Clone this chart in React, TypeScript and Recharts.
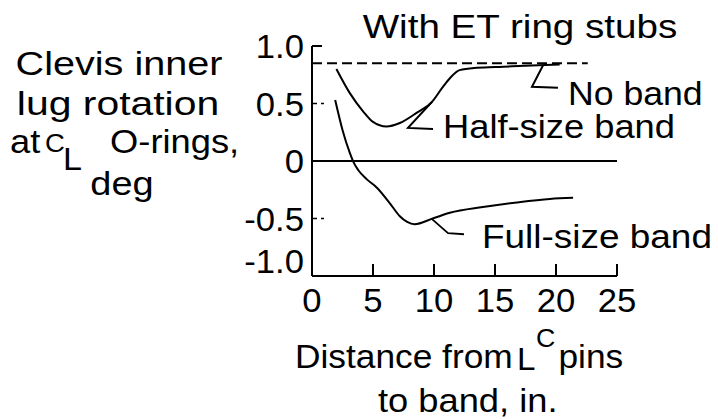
import React from 'react';
import { LineChart, Line, XAxis, YAxis, ReferenceLine } from 'recharts';

// ---- data ----
const xTicks = [0, 5, 10, 15, 20, 25];
const yTicks = [-1, -0.5, 0, 0.5, 1];
const yTickLabels = ['-1.0', '-0.5', '0', '0.5', '1.0'];

const noBandX = [0, 22.6];
const noBandY = [0.85, 0.85];

const halfX = [2.0, 3.1, 4.2, 5.0, 6.1, 7.2, 8.6, 9.8, 10.7, 11.3, 12.1, 13.5, 15.7, 18.0, 20.3];
const halfY = [0.8, 0.59, 0.43, 0.34, 0.3, 0.33, 0.42, 0.51, 0.64, 0.72, 0.79, 0.81, 0.82, 0.83, 0.84];

const fullX = [1.9, 2.5, 3.1, 3.4, 3.8, 4.5, 5.3, 6.4, 7.2, 7.8, 8.4, 9.9, 11.3, 14.0, 16.8, 19.5, 21.4];
const fullY = [0.53, 0.27, 0.07, -0.01, -0.08, -0.16, -0.23, -0.37, -0.48, -0.53, -0.55, -0.5, -0.45, -0.4, -0.36, -0.33, -0.32];

// leader lines (data units)
const noLeadX = [18.93, 18.03, 20.16];
const noLeadY = [0.83, 0.645, 0.637];
const halfLeadX = [9.84, 7.87, 9.92];
const halfLeadY = [0.515, 0.288, 0.279];
const fullLeadX = [9.84, 11.15, 12.46];
const fullLeadY = [-0.506, -0.628, -0.637];

const pts = (xs: number[], ys: number[]) => xs.map((x, i) => ({ x, y: ys[i] }));

const FONT = "'Liberation Sans', Arial, Helvetica, sans-serif";

function T({ x, y, sx = 1.12, size = 33, anchor = 'start', children }: any) {
  return (
    <text
      transform={`translate(${x} ${y}) scale(${sx} 1)`}
      fontSize={size}
      fontFamily={FONT}
      textAnchor={anchor}
      fill="#000"
    >
      {children}
    </text>
  );
}

function XTick(props: any) {
  const { x, y, payload } = props;
  return (
    <g>
      {payload.value !== 0 && (
        <line x1={x} y1={y} x2={x} y2={y - 12} stroke="#000" strokeWidth={2} />
      )}
      <T x={x} y={y + 36} anchor="middle" sx={1.05}>
        {String(payload.value)}
      </T>
    </g>
  );
}

function YTick(props: any) {
  const { x, y, payload } = props;
  const v = payload.value;
  const label = yTickLabels[yTicks.indexOf(v)];
  const base = v === -1 ? y - 3 : y + 12;
  return (
    <g>
      {v === 1 && <line x1={x} y1={y} x2={x + 10} y2={y} stroke="#000" strokeWidth={2} />}
      {(v === 0.5 || v === -0.5) && (
        <line x1={x} y1={y} x2={x + 12} y2={y} stroke="#000" strokeWidth={1.5} strokeDasharray="5 4" />
      )}
      <T x={x - 8} y={base} anchor="end" sx={1.05}>
        {label}
      </T>
    </g>
  );
}

export default function App() {
  const lineProps = {
    stroke: '#000',
    dot: false,
    activeDot: false,
    isAnimationActive: false,
    dataKey: 'y',
  } as any;
  return (
    <div style={{ position: 'absolute', left: 0, top: 0, width: 718, height: 419, background: '#fff' }}>
      <LineChart
        width={718}
        height={419}
        margin={{ top: 46, right: 101, bottom: 103, left: 0 }}
      >
        <XAxis
          type="number"
          dataKey="x"
          domain={[0, 25]}
          ticks={xTicks}
          interval={0}
          tick={(p: any) => <XTick {...p} />}
          tickSize={0}
          tickMargin={0}
          tickLine={false}
          axisLine={{ stroke: '#000', strokeWidth: 2 }}
          height={40}
          allowDataOverflow
        />
        <YAxis
          type="number"
          domain={[-1, 1]}
          ticks={yTicks}
          interval={0}
          tick={(p: any) => <YTick {...p} />}
          tickSize={0}
          tickMargin={0}
          tickLine={false}
          axisLine={{ stroke: '#000', strokeWidth: 2 }}
          width={312}
          allowDataOverflow
        />
        <ReferenceLine y={0} stroke="#000" strokeWidth={1.8} />
        <Line {...lineProps} data={pts(noBandX, noBandY)} type="linear" strokeWidth={1.8} strokeDasharray="10 5" />
        <Line {...lineProps} data={pts(halfX, halfY)} type="monotone" strokeWidth={2} />
        <Line {...lineProps} data={pts(fullX, fullY)} type="monotone" strokeWidth={2} />
        <Line {...lineProps} data={pts(noLeadX, noLeadY)} type="linear" strokeWidth={2} />
        <Line {...lineProps} data={pts(halfLeadX, halfLeadY)} type="linear" strokeWidth={2} />
        <Line {...lineProps} data={pts(fullLeadX, fullLeadY)} type="linear" strokeWidth={1.8} />
      </LineChart>
      <svg
        width={718}
        height={419}
        style={{ position: 'absolute', left: 0, top: 0, pointerEvents: 'none' }}
      >
        <T x={520} y={38} anchor="middle" sx={1.17}>With ET ring stubs</T>

        <T x={119} y={75} anchor="middle" sx={1.2}>Clevis inner</T>
        <T x={118} y={115} anchor="middle" sx={1.24}>lug rotation</T>
        <T x={10} y={153} sx={1.1}>
          at
          <tspan dx={4.3} dy={-1} fontSize={25}>C</tspan>
          <tspan dx={-1.6} dy={18} fontSize={31}>L</tspan>
          <tspan dx={25.5} dy={-17}>O-rings,</tspan>
        </T>
        <T x={122} y={195} anchor="middle" sx={1.15}>deg</T>

        <T x={568} y={105} sx={1.08}>No band</T>
        <T x={443} y={138} sx={1.1}>Half-size band</T>
        <T x={482} y={248} sx={1.12}>Full-size band</T>

        <T x={295} y={368} sx={1.07}>
          Distance from
          <tspan dx={4} dy={2} fontSize={31}>L</tspan>
          <tspan dx={0.5} dy={-23} fontSize={25}>C</tspan>
          <tspan dx={3} dy={21}>pins</tspan>
        </T>
        <T x={378} y={412} sx={1.1}>to band, in.</T>
      </svg>
    </div>
  );
}
